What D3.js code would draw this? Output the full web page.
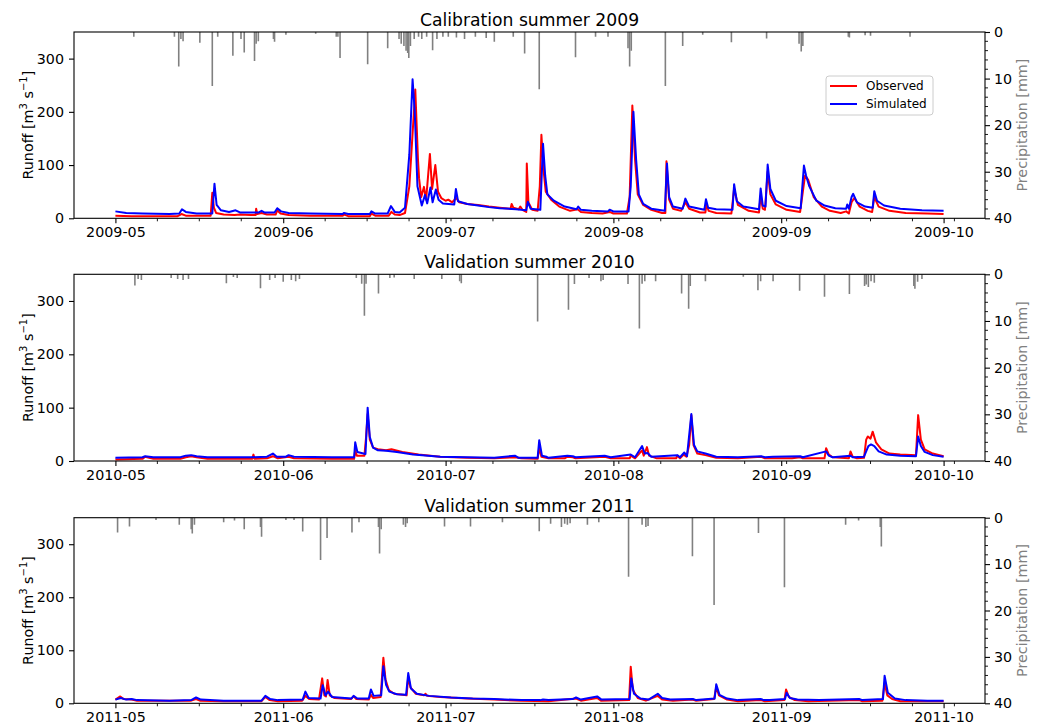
<!DOCTYPE html>
<html><head><meta charset="utf-8">
<script src="https://cdn.jsdelivr.net/npm/d3@7"></script>
<style>body{margin:0;background:#fff}svg{display:block;font-family:"DejaVu Sans",sans-serif}</style>
</head><body><svg id="c" width="1042" height="727"></svg>
<script>
// ---- DATA (day offset from 1 May, value) ----
const titles = ["Calibration summer 2009", "Validation summer 2010", "Validation summer 2011"];
const years = [2009, 2010, 2011];
const legendLabels = ["Observed", "Simulated"];
const runoffTicks = [0, 100, 200, 300];
const precipTicks = [0, 10, 20, 30, 40];

const obs2009 = [[0,5],[3,4],[8,4],[11.5,4],[12.2,8],[13,5],[17.6,5],[17.9,48],[18.2,20],[18.6,10],[20,7],[22,6],[23,7],[25,6],[25.9,6],[26,18],[26.2,8],[27,10],[28,7],[29.6,7],[29.9,15],[30.5,9],[32,6],[36,5],[42,5],[42.3,7],[43,4],[47,4],[47.3,9],[48,5],[50.5,5],[51,12],[51.6,7],[52.5,6],[53.5,10],[54.3,60],[55.4,242],[55.9,110],[56.1,75],[56.5,40],[57,59],[57.4,35],[58.1,121],[58.5,55],[59.1,100],[59.6,50],[60.2,38],[61,33],[61.5,35],[62.2,30],[63,38],[63.5,30],[65,27],[67,25],[69,22],[71,20],[73,18],[73.2,27],[73.5,20],[74.5,17],[74.8,22],[75.2,16],[75.9,12],[76,103],[76.3,30],[77,16],[78,14],[78.4,60],[78.7,157],[79.1,90],[79.5,50],[80.5,35],[82,22],[84,14],[85.4,17],[86,12],[88,10],[90,9],[91.3,12],[92,9],[94.5,9],[95,40],[95.5,212],[96,110],[96.5,45],[97.5,25],[99,16],[101,10],[101.6,10],[101.8,107],[102.3,35],[103,18],[104.5,14],[105.3,30],[106,18],[108,11],[109,11],[109.2,26],[109.6,14],[111,10],[113.8,9],[114.3,56],[115,25],[117,14],[118.9,11],[119.2,42],[119.6,18],[120,16],[120.5,88],[121,45],[122,26],[124,16],[126.5,12],[127,50],[127.4,80],[128,72],[129,40],[130.5,22],[132,14],[134,10],[135,13],[135.5,9],[136,30],[136.5,38],[137.5,22],[139,14],[139.8,12],[140.2,40],[141,22],[143,14],[146,10],[150,9],[153,8]];
const sim2009 = [[0,13],[2,10],[5,9],[10,8],[11.8,9],[12.3,17],[13,12],[15,9],[17.9,9],[18.3,65],[18.7,25],[19.5,15],[21,12],[22.2,15],[23,11],[26.5,11],[27,14],[27.5,11],[29.4,11],[29.9,19],[30.6,13],[32,10],[36,9],[42,8],[42.2,10],[43,8],[47,8],[47.3,13],[48,9],[50.3,9],[50.9,23],[51.6,12],[52.5,11],[53.5,20],[54.3,120],[54.9,261],[55.3,200],[55.8,60],[56.6,24],[57.2,44],[57.6,28],[58.2,58],[58.6,30],[59.2,54],[59.7,35],[60.5,28],[62.6,26],[62.9,55],[63.3,32],[65,27],[67,24],[69,21],[71,19],[74,17],[75.9,15],[76.2,31],[76.7,18],[78.5,16],[79,140],[79.4,80],[79.8,45],[81,33],[83,22],[85.2,17],[85.5,22],[86,16],[88,14],[91,13],[91.3,16],[92,13],[94.8,13],[95.2,60],[95.7,200],[96.2,110],[96.7,45],[97.5,27],[99,18],[101.5,14],[101.9,103],[102.3,40],[103,22],[104.8,18],[105.3,37],[106,22],[108.8,16],[109.1,36],[109.5,20],[111,17],[114,16],[114.3,64],[114.8,32],[116,22],[118.9,17],[119.2,56],[119.6,24],[120.1,22],[120.5,101],[121,55],[122,33],[124,23],[126.6,19],[127.2,99],[127.6,80],[128.2,60],[129.5,33],[131,24],[133,19],[135,18],[135.2,26],[135.5,18],[136,40],[136.3,46],[137,30],[138.5,22],[139.9,20],[140.2,51],[140.7,33],[142,24],[145,18],[149,15],[153,14]];
const pre2009 = [[3.4,1],[10.9,1],[11.7,7.4],[12.1,1.5],[12.5,2],[15.6,2.3],[17.9,11.6],[18.9,1],[21.7,5.1],[23.2,1.5],[23.8,4.4],[25.7,6.2],[26,2.5],[26.4,2],[29.2,1.5],[29.4,2.1],[31.5,0.6],[37,0.4],[40.8,1],[41.1,1],[41.5,5.6],[46.6,6.9],[50.3,3.5],[52.4,1.5],[52.8,2.5],[53.3,3],[53.7,4],[54,4.5],[54.2,5.6],[54.5,3],[55.2,1.5],[56,1],[56.6,1.5],[57.5,1],[58.6,3.9],[59.4,1.5],[60.5,1],[61.5,1],[63,1.2],[64.5,1.5],[66.5,1],[68.5,1.3],[70,2.1],[73.5,1],[75.6,4.6],[78.3,12.3],[85,5.4],[88.7,1],[91,1],[94.7,3.5],[95,7.4],[95.3,4],[101.6,11.6],[104.8,3],[108.5,0.6],[113.8,2.2],[120.3,1.4],[126.3,2.5],[126.7,4.2],[127,3],[135.4,1],[135.6,1.2],[138.5,0.7],[139.5,0.8],[146.8,1]];

const obs2010 = [[0,3],[5,4],[5.5,8],[7,4],[12,4],[13,7],[14,9],[15,7],[17,4],[25.3,4],[25.5,12],[25.7,4],[28,5],[29.1,9],[30,5],[32,8],[33,5],[40,4],[44.1,4],[44.3,20],[44.6,10],[46,10],[46.3,44],[46.6,88],[47,40],[47.6,25],[48.5,22],[50,20],[51,22],[53,17],[56,12],[60,8],[65,6],[70,5],[73.8,7],[75,5],[78,4],[78.3,25],[78.7,8],[80,5],[83,5],[83.5,8],[84.5,7],[85,5],[90.4,8],[91.5,5],[95,5],[95.2,10],[96,5],[97.3,20],[97.6,10],[98.2,26],[98.6,10],[100,5],[103.6,5],[103.8,10],[104.3,5],[105,12],[105.5,8],[106,30],[106.4,86],[106.8,30],[107.5,14],[109,11],[111,6],[115,5],[119.3,8],[120,5],[125,5],[126.5,7],[127,5],[131,5],[131.3,24],[131.8,12],[132.5,7],[135.5,5],[135.8,18],[136.2,8],[137,5],[138.3,6],[138.7,40],[139,46],[139.5,42],[139.9,55],[140.5,35],[141.5,22],[143,14],[145,12],[147.9,11],[148.3,86],[148.8,40],[149.5,22],[151,14],[153,9]];
const sim2010 = [[0,6],[5,7],[5.5,9],[7,7],[12,7],[13,10],[14,11],[15,9],[17,7],[25,7],[28,8],[29.1,14],[29.8,8],[31.5,8],[32,11],[33,8],[40,7],[44.1,7],[44.3,35],[44.7,17],[46.2,13],[46.6,100],[47,45],[47.6,25],[48.5,20],[50,19],[52,17],[55,12],[60,8],[65,7],[70,6],[73.8,10],[74.5,6],[78,6],[78.3,39],[78.8,10],[79.6,8],[80,6],[83.5,10],[84.5,9],[85,7],[90.4,10],[91.5,7],[95.2,12],[96,7],[97.3,28],[97.8,14],[98.3,15],[99,8],[103.8,11],[104.3,7],[105.1,16],[105.6,9],[106.4,88],[106.9,30],[107.5,18],[109,14],[111,8],[115,7],[119.3,9],[120,7],[121.5,8],[126.5,9],[127,7],[131.3,18],[131.8,10],[132.5,7],[135.8,10],[136.2,7],[138.3,8],[139.1,28],[139.6,31],[140.2,28],[141,18],[142.5,12],[145,10],[147.9,9],[148.3,46],[148.8,28],[149.5,17],[151,11],[153,8]];
const pre2010 = [[3.6,2.4],[4.2,1],[4.8,1.2],[10.3,0.8],[11.5,1],[12.5,1.2],[13.5,1],[20.5,1.9],[21.8,0.6],[22.5,0.8],[26.8,3],[28.5,1.2],[29.5,0.8],[31,1.6],[32.5,1.2],[33.3,1.5],[34,1],[44.5,0.8],[45.5,2],[46,8.9],[46.3,2],[48.6,4.1],[50.7,0.8],[51.5,0.7],[55.2,1],[60.3,1],[63.6,1.5],[63.9,1.9],[78,10.1],[83.7,7.6],[84.8,2.1],[87.5,0.8],[89.7,1.5],[90.1,1.2],[94.7,2.1],[96.8,11.6],[97.3,2],[97.8,1.5],[99.8,1.5],[104.6,4.1],[105.9,7.4],[106.2,2.5],[109,1.5],[116,0.5],[118.7,3.4],[119.2,1.5],[121.5,1.5],[126.4,3.5],[131,4.8],[135.6,4.2],[138.4,2.5],[138.7,2.2],[139.1,2.7],[139.6,1.5],[140.2,1.8],[147.5,2.5],[147.7,3.1],[148.2,1.6],[149,1]];

const obs2011 = [[0,7],[0.9,13],[1.5,8],[3,7],[4,5],[10,5],[14,5],[14.9,8],[15.6,5],[20,4],[27,4],[27.7,12],[28.5,6],[30,4],[34.5,5],[35.1,14],[35.8,8],[37.6,7],[38.2,47],[38.6,15],[38.9,13],[39.2,44],[39.6,15],[40.5,10],[43.5,8],[44,13],[44.5,8],[46.8,7],[47.2,16],[47.6,10],[49,12],[49.5,86],[49.9,45],[50.5,25],[51.5,18],[53.8,15],[54.1,50],[54.5,30],[55.5,18],[57,15],[57.3,18],[57.6,14],[60,12],[65,9],[70,7],[75,5],[80,4],[85.1,9],[86,5],[89,10],[89.7,5],[94.9,6],[95.2,69],[95.6,25],[96.5,10],[98,5],[100.2,14],[101,7],[103,5],[106.6,7],[107.2,5],[110.6,8],[111,31],[111.5,15],[113,7],[115,4],[119.2,6],[120,4],[123.6,6],[123.9,26],[124.4,12],[125.5,6],[128,4],[137.4,6],[138,4],[141.7,5],[142.1,38],[142.6,15],[143.5,8],[145,4],[150,4],[153,4]];
const sim2011 = [[0,7],[1,10],[2,7],[3,8],[4,6],[10,5],[14,6],[14.9,11],[15.8,7],[20,5],[27,5],[27.7,14],[28.6,8],[30,6],[34.6,7],[35.1,22],[35.7,10],[37.9,9],[38.3,34],[38.8,15],[39.3,22],[40,12],[43.6,9],[44,14],[44.7,9],[46.8,9],[47.2,26],[47.7,14],[49.1,15],[49.5,70],[50,35],[50.6,22],[52,17],[53.7,16],[54.1,57],[54.6,28],[55.7,18],[58,14],[62,11],[66,9],[70,8],[75,6],[78.5,6],[79,7],[80,6],[84.5,8],[85.1,11],[86,7],[89,13],[89.8,7],[95,8],[95.3,47],[95.8,18],[97,9],[98.5,7],[100.2,18],[101,10],[102.5,7],[106.7,8],[107.3,6],[110.7,9],[111,36],[111.6,16],[113,9],[115,6],[119.2,8],[119.8,6],[120.9,6],[123.7,8],[124,20],[124.6,10],[126,7],[130,6],[137.4,8],[138,6],[141.8,8],[142.1,52],[142.7,20],[144,9],[146,6],[150,5],[153,5]];
const pre2011 = [[0.4,3.2],[2.6,1.9],[7.5,0.5],[11.8,1.5],[14,2.5],[14.2,3.4],[14.6,1.5],[20,1],[22,0.6],[23.8,2.5],[26.8,2],[27,4.1],[31.5,0.5],[33,0.5],[34.6,3],[37.9,9.1],[39.1,4.4],[43.7,3.2],[45,1],[48.6,2],[48.8,7.7],[49.1,2.5],[53.2,1.5],[53.6,2],[53.9,1.2],[60.8,1.9],[65.6,1.9],[71.5,1],[78.3,2.9],[80.4,1.3],[82.4,2],[83,1.3],[83.5,1.5],[84,1.2],[87.2,1.5],[89.3,1],[94.8,12.7],[97.3,1.5],[98,2],[98.4,1.8],[106.6,8.3],[110.6,18.8],[118.8,3.3],[123.6,15],[134.9,1.5],[137.3,0.6],[141.3,2],[141.5,6.2]];

const observed = [obs2009, obs2010, obs2011];
const simulated = [sim2009, sim2010, sim2011];
const precip = [pre2009, pre2010, pre2011];

// ---- LAYOUT ----
const svg = d3.select("#c");
const L = 74, R = 985;
const tops = [32, 274.3, 517.7], bottoms = [218.3, 461, 703.3];
const DAY = 86400000;
const fs = 14.3;

years.forEach((yr, i) => {
  const t0 = Date.UTC(yr, 4, 1), t1 = Date.UTC(yr, 9, 1);
  const pad = (t1 - t0) * 0.05;
  const x = d3.scaleUtc().domain([new Date(t0 - pad), new Date(t1 + pad)]).range([L, R]);
  const y = d3.scaleLinear().domain([0, 350]).range([bottoms[i], tops[i]]);
  const yp = d3.scaleLinear().domain([0, 40]).range([tops[i], bottoms[i]]);
  const toDate = d => new Date(t0 + d * DAY);
  const g = svg.append("g");

  // clip
  const cid = "clip" + i;
  svg.append("clipPath").attr("id", cid).append("rect")
    .attr("x", L).attr("y", tops[i]).attr("width", R - L).attr("height", bottoms[i] - tops[i]);

  const plot = g.append("g").attr("clip-path", `url(#${cid})`);
  const line = d3.line().x(d => x(toDate(d[0]))).y(d => y(d[1]));
  plot.append("path").datum(observed[i]).attr("d", line)
    .attr("fill", "none").attr("stroke", "red").attr("stroke-width", 2).attr("stroke-linejoin", "round");
  plot.append("path").datum(simulated[i]).attr("d", line)
    .attr("fill", "none").attr("stroke", "blue").attr("stroke-width", 2).attr("stroke-linejoin", "round");
  plot.selectAll("line.p").data(precip[i]).enter().append("line")
    .attr("x1", d => x(toDate(d[0]))).attr("x2", d => x(toDate(d[0])))
    .attr("y1", yp(0)).attr("y2", d => yp(d[1]))
    .attr("stroke", "#808080").attr("stroke-width", 1.6);

  // frame
  g.append("rect").attr("x", L).attr("y", tops[i]).attr("width", R - L).attr("height", bottoms[i] - tops[i])
    .attr("fill", "none").attr("stroke", "#000").attr("stroke-width", 1.1);

  // x axis
  const xAxis = d3.axisBottom(x).ticks(d3.utcMonth.every(1)).tickFormat(d3.utcFormat("%Y-%m"))
    .tickSize(5).tickPadding(4);
  const gx = g.append("g").attr("transform", `translate(0,${bottoms[i]})`).call(xAxis);
  gx.select(".domain").remove();
  gx.selectAll("text").attr("font-size", fs).attr("font-family", "DejaVu Sans").attr("fill", "#000");
  gx.selectAll("line").attr("stroke-width", 1.1);
  // minor x ticks (AutoMinor: quarter of first major step)
  const majors = x.ticks(d3.utcMonth.every(1)).map(d => +d);
  const step = (majors[1] - majors[0]) / 4;
  const vmax = +x.domain()[1];
  const minors = [];
  for (let t = majors[0]; t < vmax; t += step) {
    if (!majors.some(m => Math.abs(m - t) < DAY * 0.01)) minors.push(new Date(t));
  }
  g.selectAll("line.mx").data(minors).enter().append("line")
    .attr("x1", d => x(d)).attr("x2", d => x(d))
    .attr("y1", bottoms[i]).attr("y2", bottoms[i] + 3)
    .attr("stroke", "#000").attr("stroke-width", 0.9);

  // left axis
  const gy = g.append("g").attr("transform", `translate(${L},0)`)
    .call(d3.axisLeft(y).tickValues(runoffTicks).tickSize(5).tickPadding(5));
  gy.select(".domain").remove();
  gy.selectAll("text").attr("font-size", fs).attr("font-family", "DejaVu Sans").attr("fill", "#000");
  gy.selectAll("line").attr("stroke-width", 1.1);

  // right axis
  const gr = g.append("g").attr("transform", `translate(${R},0)`)
    .call(d3.axisRight(yp).tickValues(precipTicks).tickSize(5).tickPadding(4));
  gr.select(".domain").remove();
  gr.selectAll("text").attr("font-size", fs).attr("font-family", "DejaVu Sans").attr("fill", "#000");
  gr.selectAll("line").attr("stroke-width", 1.1);
  const pminor = d3.range(2, 40, 2).filter(v => v % 10 !== 0);
  g.selectAll("line.mp").data(pminor).enter().append("line")
    .attr("x1", R).attr("x2", R + 3).attr("y1", d => yp(d)).attr("y2", d => yp(d))
    .attr("stroke", "#000").attr("stroke-width", 0.9);

  // labels
  const cy = (tops[i] + bottoms[i]) / 2;
  const yl = g.append("text").attr("transform", `translate(33,${cy}) rotate(-90)`)
    .attr("text-anchor", "middle").attr("font-size", fs).attr("fill", "#000");
  yl.append("tspan").text("Runoff [m");
  yl.append("tspan").text("3").attr("font-size", fs * 0.7).attr("dy", -6);
  yl.append("tspan").text(" s").attr("dy", 6);
  yl.append("tspan").text("−1").attr("font-size", fs * 0.7).attr("dy", -6);
  yl.append("tspan").text("]").attr("dy", 6);

  g.append("text").attr("transform", `translate(1027,${cy}) rotate(-90)`)
    .attr("text-anchor", "middle").attr("font-size", fs).attr("fill", "#808080")
    .text("Precipitation [mm]");

  g.append("text").attr("x", (L + R) / 2).attr("y", tops[i] - 6)
    .attr("text-anchor", "middle").attr("font-size", 17.2).attr("fill", "#000").text(titles[i]);

  // legend (first panel only)
  if (i === 0) {
    const lg = g.append("g");
    lg.append("rect").attr("x", 826).attr("y", 76).attr("width", 107).attr("height", 39)
      .attr("rx", 3).attr("fill", "#fff").attr("fill-opacity", 0.8).attr("stroke", "#cccccc").attr("stroke-width", 1);
    const cols = ["red", "blue"];
    legendLabels.forEach((lab, k) => {
      const yy = 86 + k * 18;
      lg.append("line").attr("x1", 830).attr("x2", 857).attr("y1", yy).attr("y2", yy)
        .attr("stroke", cols[k]).attr("stroke-width", 2);
      lg.append("text").attr("x", 866).attr("y", yy).attr("dy", "0.35em")
        .attr("font-size", 12).attr("fill", "#000").text(lab);
    });
  }
});
</script></body></html>
